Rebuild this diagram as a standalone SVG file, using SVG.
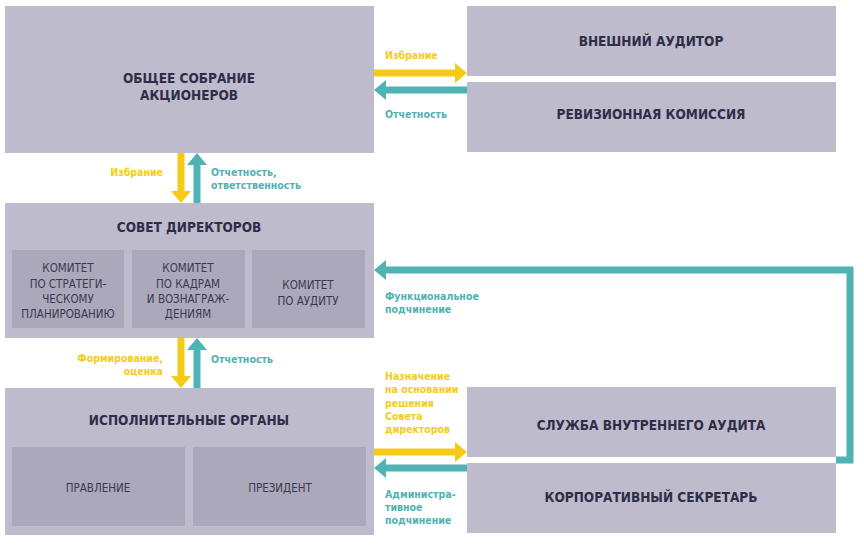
<svg xmlns="http://www.w3.org/2000/svg" width="864" height="553" viewBox="0 0 864 553">
<style>
.box{fill:#bdbbcc}
.sub{fill:#aaa8ba}
.t{font-family:"DejaVu Sans Condensed","Liberation Sans",sans-serif;font-weight:bold;font-size:13.5px;fill:#2f2d48;text-anchor:middle}
.s{font-family:"DejaVu Sans Condensed","Liberation Sans",sans-serif;font-size:11.5px;fill:#3a3850;text-anchor:middle}
.ly{font-family:"DejaVu Sans Condensed","Liberation Sans",sans-serif;font-weight:bold;font-size:10.5px;fill:#f6cb17}
.lt{font-family:"DejaVu Sans Condensed","Liberation Sans",sans-serif;font-weight:bold;font-size:10.5px;fill:#4fb2b3}
.ay{fill:none;stroke:#f6cb17;stroke-width:7}
.at{fill:none;stroke:#4fb2b3;stroke-width:7}
</style>
<defs>
<marker id="hy" markerUnits="userSpaceOnUse" markerWidth="12" markerHeight="20" refX="0" refY="10" orient="auto" overflow="visible"><path d="M0,0 L12,10 L0,20 z" fill="#f6cb17"/></marker>
<marker id="ht" markerUnits="userSpaceOnUse" markerWidth="12" markerHeight="20" refX="0" refY="10" orient="auto" overflow="visible"><path d="M0,0 L12,10 L0,20 z" fill="#4fb2b3"/></marker>
</defs>
<rect width="864" height="553" fill="#ffffff"/>

<g id="connectors">
<path class="ay" d="M374,73 H455" marker-end="url(#hy)"/>
<path class="at" d="M467,90 H386" marker-end="url(#ht)"/>
<path class="ay" d="M181,153 V191" marker-end="url(#hy)"/>
<path class="at" d="M197,203 V165" marker-end="url(#ht)"/>
<path class="ay" d="M181,338 V376" marker-end="url(#hy)"/>
<path class="at" d="M197,388 V350" marker-end="url(#ht)"/>
<path class="ay" d="M374,452 H455" marker-end="url(#hy)"/>
<path class="at" d="M467,468 H386" marker-end="url(#ht)"/>
<path class="at" d="M836,460 H850 V270 H386" marker-end="url(#ht)"/>
<text class="ly" x="385" y="59">Избрание</text>
<text class="lt" x="385" y="118">Отчетность</text>
<text class="ly" x="163" y="176" text-anchor="end">Избрание</text>
<text class="lt" x="211" y="176">Отчетность,</text>
<text class="lt" x="211" y="189">ответственность</text>
<text class="ly" x="163" y="362" text-anchor="end">Формирование,</text>
<text class="ly" x="163" y="375" text-anchor="end">оценка</text>
<text class="lt" x="211" y="363">Отчетность</text>
<text class="lt" x="385" y="300">Функциональное</text>
<text class="lt" x="385" y="313">подчинение</text>
<text class="ly" x="385" y="380">Назначение</text>
<text class="ly" x="385" y="393">на основании</text>
<text class="ly" x="385" y="407">решения</text>
<text class="ly" x="385" y="420">Совета</text>
<text class="ly" x="385" y="433">директоров</text>
<text class="lt" x="385" y="498">Администра-</text>
<text class="lt" x="385" y="511">тивное</text>
<text class="lt" x="385" y="524">подчинение</text>
</g>

<g id="gms">
<rect class="box" x="5" y="6" width="369" height="147"/>
<text class="t" x="189" y="83">ОБЩЕЕ СОБРАНИЕ</text>
<text class="t" x="189" y="100">АКЦИОНЕРОВ</text>
</g>
<g id="ext-auditor">
<rect class="box" x="467" y="6" width="369" height="70"/>
<text class="t" x="651" y="46">ВНЕШНИЙ АУДИТОР</text>
</g>
<g id="audit-commission">
<rect class="box" x="467" y="82" width="369" height="70"/>
<text class="t" x="651" y="119">РЕВИЗИОННАЯ КОМИССИЯ</text>
</g>
<g id="board">
<rect class="box" x="5" y="203" width="369" height="135"/>
<text class="t" x="189" y="232">СОВЕТ ДИРЕКТОРОВ</text>
<g id="com-strategy">
<rect class="sub" x="12" y="250" width="112" height="78"/>
<text class="s" x="68" y="272">КОМИТЕТ</text>
<text class="s" x="68" y="288">ПО СТРАТЕГИ-</text>
<text class="s" x="68" y="303">ЧЕСКОМУ</text>
<text class="s" x="68" y="318">ПЛАНИРОВАНИЮ</text>
</g>
<g id="com-hr">
<rect class="sub" x="132" y="250" width="113" height="78"/>
<text class="s" x="188" y="272">КОМИТЕТ</text>
<text class="s" x="188" y="288">ПО КАДРАМ</text>
<text class="s" x="188" y="303">И ВОЗНАГРАЖ-</text>
<text class="s" x="188" y="318">ДЕНИЯМ</text>
</g>
<g id="com-audit">
<rect class="sub" x="252" y="250" width="113" height="78"/>
<text class="s" x="308" y="289">КОМИТЕТ</text>
<text class="s" x="308" y="305">ПО АУДИТУ</text>
</g>
</g>
<g id="exec">
<rect class="box" x="5" y="388" width="369" height="147"/>
<text class="t" x="189" y="425">ИСПОЛНИТЕЛЬНЫЕ ОРГАНЫ</text>
<g id="pravlenie">
<rect class="sub" x="12" y="447" width="173" height="79"/>
<text class="s" x="98" y="492">ПРАВЛЕНИЕ</text>
</g>
<g id="president">
<rect class="sub" x="193" y="447" width="173" height="79"/>
<text class="s" x="280" y="492">ПРЕЗИДЕНТ</text>
</g>
</g>
<g id="internal-audit">
<rect class="box" x="467" y="387" width="369" height="70"/>
<text class="t" x="651" y="430">СЛУЖБА ВНУТРЕННЕГО АУДИТА</text>
</g>
<g id="secretary">
<rect class="box" x="467" y="463" width="369" height="70"/>
<text class="t" x="651" y="502">КОРПОРАТИВНЫЙ СЕКРЕТАРЬ</text>
</g>
</svg>
